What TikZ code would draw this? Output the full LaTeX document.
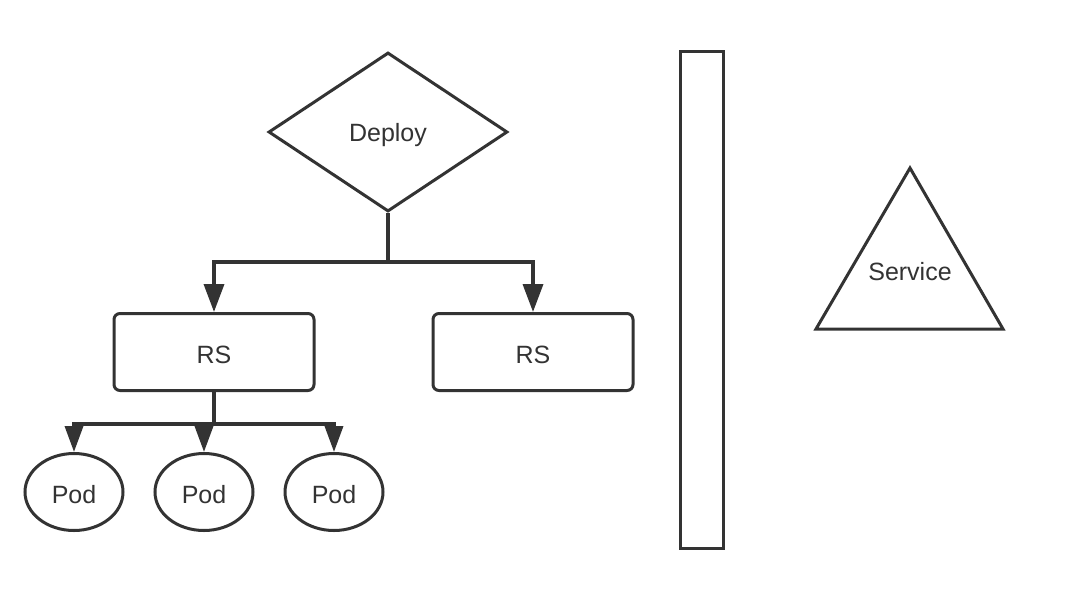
\documentclass[tikz,border=0pt]{standalone}
\usepackage{fontspec}
\setmainfont{Liberation Sans}
\usetikzlibrary{shapes.geometric,arrows.meta}
\definecolor{ink}{HTML}{333333}
\begin{document}
\begin{tikzpicture}[x=1pt,y=-1pt,
  every node/.style={text=ink,font=\fontsize{25}{29}\selectfont},
  label text/.style={yshift=-3pt},
  outline/.style={draw=ink,line width=3pt,fill=white},
  rsbox/.style={outline,rounded corners=6pt,minimum width=200pt,minimum height=77pt,inner sep=0pt},
  podshape/.style={outline,ellipse,minimum width=98pt,minimum height=77pt,inner sep=0pt},
  link/.style={draw=ink,line width=3.5pt},
  tip/.style={-{Triangle[length=28pt,width=20pt]}},
  podtip/.style={-{Triangle[length=26pt,width=18pt]}}]
\useasboundingbox (0,0) rectangle (1078,600);

% deployment diamond
\node[outline,diamond,minimum width=239pt,minimum height=159pt,inner sep=0pt] (deploy) at (388,132) {};
\node[label text] (deploytext) at (deploy.center) {Deploy};

% replica sets
\node[rsbox] (rs1) at (214,352) {};
\node[rsbox] (rs2) at (533,352) {};
\node[label text] (rs1text) at (rs1.center) {RS};
\node[label text] (rs2text) at (rs2.center) {RS};

% pods
\node[podshape] (pod1) at (74,492) {};
\node[podshape] (pod2) at (204,492) {};
\node[podshape] (pod3) at (334,492) {};
\node[label text] (pod1text) at (pod1.center) {Pod};
\node[label text] (pod2text) at (pod2.center) {Pod};
\node[label text] (pod3text) at (pod3.center) {Pod};

% separator bar
\node[outline,minimum width=43pt,minimum height=497pt,inner sep=0pt] (bar) at (702,300) {};

% service triangle
\draw[outline,line join=miter] (910,168) coordinate (stop) -- (1003,329) -- (816,329) -- cycle;
\node (svc) at (910,272) {Service};

% deploy -> replica sets
\coordinate (split) at (388,262);
\draw[link,line width=4pt] (deploy.south) -- (split);
\draw[link,tip] (split) -| (rs1.north);
\draw[link,tip] (split) -| (rs2.north);

% replica set -> pods
\coordinate (fork) at (214,424);
\draw[link,line width=4.5pt] (rs1.south) -- (fork);
\draw[link,podtip] (fork) -| (pod1.north);
\draw[link,podtip] (fork) -| (pod2.north);
\draw[link,podtip] (fork) -| (pod3.north);
\end{tikzpicture}
\end{document}
